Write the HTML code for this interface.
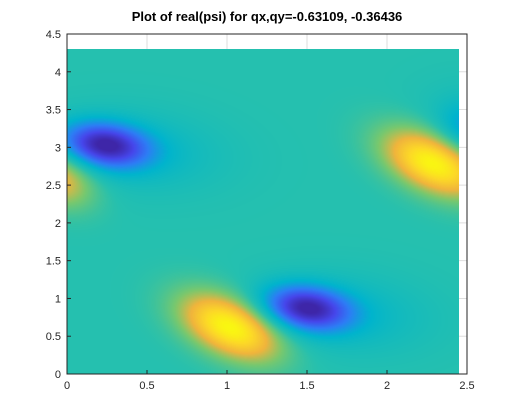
<!DOCTYPE html>
<html><head><meta charset="utf-8"><style>
body{margin:0;background:#fff;width:516px;height:420px;overflow:hidden;font-family:"Liberation Sans",sans-serif}
</style></head><body>
<svg width="516" height="420" style="position:absolute;left:0;top:0">
<rect width="516" height="420" fill="#fff"/>
<g id="grid"></g>
<foreignObject x="67" y="49" width="392" height="325">
<canvas id="cv" width="392" height="325" style="display:block"></canvas>
</foreignObject>
<rect x="67" y="34" width="400" height="340" fill="none" stroke="#262626" stroke-width="1"/>
<g id="ticks"></g>
<text x="267" y="21" text-anchor="middle" font-size="13" font-weight="bold" fill="#000">Plot of real(psi) for qx,qy=-0.63109, -0.36436</text>
</svg>
<script>
const xTicks=[0,0.5,1,1.5,2,2.5];
const yTicks=[0,0.5,1,1.5,2,2.5,3,3.5,4,4.5];
// blobs: x, y (data), amplitude, sigma major (px), sigma minor (px), angle (deg)
const blobX=[0.24,1.02,1.50,2.29,-0.08,2.52,0.45,1.75,2.5];
const blobY=[3.03,0.62,0.87,2.79,2.60,3.23,2.95,0.80,3.3];
const blobA=[-0.9,1.0,-0.9,1.0,0.6,-0.3,-0.18,-0.18,-0.1];
const blobSa=[30,36,30,36,28,22,60,60,40];
const blobSb=[15,19,15,19,18,18,28,28,30];
const blobAng=[8,25,8,25,25,10,5,5,5];
const xMin=0,xMax=2.5,yMin=0,yMax=4.5;
const L=67,R=467,T=34,B=374;
const sx=v=>L+(v-xMin)/(xMax-xMin)*(R-L);
const sy=v=>B-(v-yMin)/(yMax-yMin)*(B-T);
const NS="http://www.w3.org/2000/svg";
const grid=document.getElementById('grid'),tk=document.getElementById('ticks');
xTicks.forEach(v=>{
 const x=sx(v);
 const g=document.createElementNS(NS,'line');g.setAttribute('x1',x);g.setAttribute('x2',x);g.setAttribute('y1',T);g.setAttribute('y2',B);g.setAttribute('stroke','#dedede');
 
 
 grid.appendChild(g);
 const t=document.createElementNS(NS,'line');t.setAttribute('x1',x);t.setAttribute('x2',x);t.setAttribute('y1',B);t.setAttribute('y2',B-4);t.setAttribute('stroke','#262626');
 
 
 tk.appendChild(t);
 const l=document.createElementNS(NS,'text');l.setAttribute('x',x);l.setAttribute('y',B+15);l.setAttribute('text-anchor','middle');l.setAttribute('font-size','11');l.setAttribute('fill','#262626');l.textContent=String(v);
 
 
 tk.appendChild(l);
});
yTicks.forEach(v=>{
 const y=sy(v);
 const g=document.createElementNS(NS,'line');g.setAttribute('x1',L);g.setAttribute('x2',R);g.setAttribute('y1',y);g.setAttribute('y2',y);g.setAttribute('stroke','#dedede');
 
 
 grid.appendChild(g);
 const t=document.createElementNS(NS,'line');t.setAttribute('x1',L);t.setAttribute('x2',L+4);t.setAttribute('y1',y);t.setAttribute('y2',y);t.setAttribute('stroke','#262626');
 
 
 tk.appendChild(t);
 const l=document.createElementNS(NS,'text');l.setAttribute('x',L-6);l.setAttribute('y',y+4);l.setAttribute('text-anchor','end');l.setAttribute('font-size','11');l.setAttribute('fill','#262626');l.textContent=String(v);
 
 
 tk.appendChild(l);
});
const cm=[[-1,62,38,168],[-0.75,70,70,235],[-0.5,45,125,245],[-0.25,0,180,205],[0,37,192,175],[0.25,120,200,110],[0.5,240,180,60],[0.75,252,215,40],[1,249,251,14]];
function cmap(t){t=Math.max(-1,Math.min(1,t));for(let i=1;i<cm.length;i++){if(t<=cm[i][0]){const a=cm[i-1],b=cm[i],f=(t-a[0])/(b[0]-a[0]);return [a[1]+f*(b[1]-a[1]),a[2]+f*(b[2]-a[2]),a[3]+f*(b[3]-a[3])];}}return cm[cm.length-1].slice(1);}
const cv=document.getElementById('cv'),ctx=cv.getContext('2d');
const W=cv.width,H=cv.height,img=ctx.createImageData(W,H);
const cx=blobX.map(sx),cy=blobY.map(sy);
for(let j=0;j<H;j++)for(let i=0;i<W;i++){
 const px=L+i+0.5,py=49+j+0.5;let f=0;
 for(let k=0;k<blobX.length;k++){
  const a=blobAng[k]*Math.PI/180,dx=px-cx[k],dy=py-cy[k];
  const u=dx*Math.cos(a)+dy*Math.sin(a),w=-dx*Math.sin(a)+dy*Math.cos(a);
  f+=blobA[k]*Math.exp(-0.5*(u*u/(blobSa[k]*blobSa[k])+w*w/(blobSb[k]*blobSb[k])));
 }
 const c=cmap(f),o=(j*W+i)*4;
 img.data[o]=c[0];img.data[o+1]=c[1];img.data[o+2]=c[2];img.data[o+3]=255;
}
ctx.putImageData(img,0,0);
</script>
</body></html>
